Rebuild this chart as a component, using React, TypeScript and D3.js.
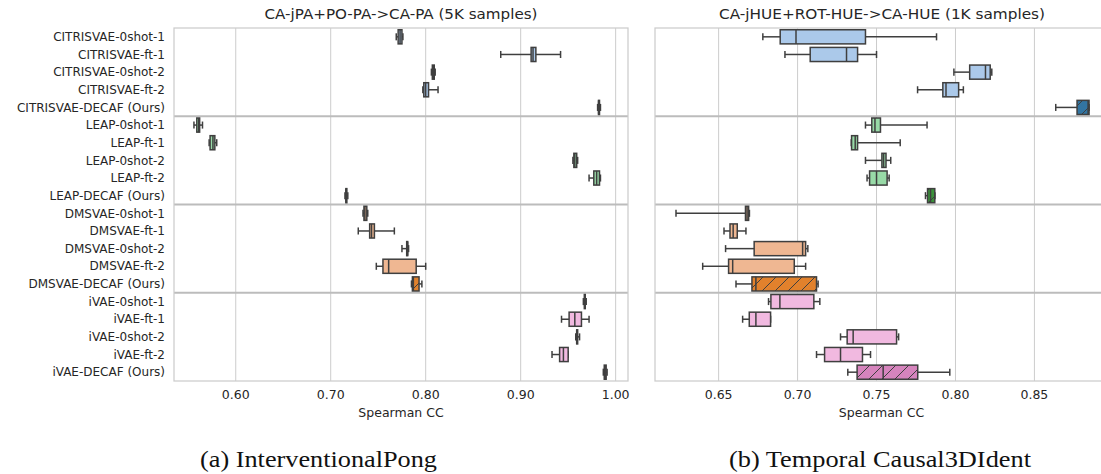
import React from "react";
import * as d3 from "d3";

// row labels, shared by both panels
const categories = [
  "CITRISVAE-0shot-1", "CITRISVAE-ft-1", "CITRISVAE-0shot-2", "CITRISVAE-ft-2", "CITRISVAE-DECAF (Ours)",
  "LEAP-0shot-1", "LEAP-ft-1", "LEAP-0shot-2", "LEAP-ft-2", "LEAP-DECAF (Ours)",
  "DMSVAE-0shot-1", "DMSVAE-ft-1", "DMSVAE-0shot-2", "DMSVAE-ft-2", "DMSVAE-DECAF (Ours)",
  "iVAE-0shot-1", "iVAE-ft-1", "iVAE-0shot-2", "iVAE-ft-2", "iVAE-DECAF (Ours)",
];

// [whisker low, q1, median, q3, whisker high]
const pongStats = [
  [0.769, 0.771, 0.773, 0.775, 0.776],
  [0.879, 0.911, 0.913, 0.916, 0.942],
  [0.806, 0.807, 0.808, 0.809, 0.810],
  [0.797, 0.798, 0.800, 0.803, 0.813],
  [0.981, 0.982, 0.982, 0.983, 0.984],
  [0.556, 0.559, 0.561, 0.562, 0.565],
  [0.572, 0.573, 0.576, 0.578, 0.580],
  [0.955, 0.956, 0.957, 0.959, 0.960],
  [0.972, 0.977, 0.980, 0.983, 0.984],
  [0.715, 0.716, 0.716, 0.717, 0.718],
  [0.734, 0.735, 0.736, 0.738, 0.739],
  [0.729, 0.741, 0.743, 0.746, 0.767],
  [0.775, 0.780, 0.781, 0.781, 0.782],
  [0.748, 0.755, 0.761, 0.790, 0.800],
  [0.785, 0.786, 0.787, 0.793, 0.796],
  [0.966, 0.967, 0.968, 0.968, 0.969],
  [0.943, 0.951, 0.957, 0.964, 0.972],
  [0.958, 0.959, 0.959, 0.960, 0.962],
  [0.933, 0.941, 0.945, 0.950, 0.950],
  [0.987, 0.988, 0.989, 0.990, 0.991],
];

const hueStats = [
  [0.678, 0.689, 0.699, 0.743, 0.788],
  [0.692, 0.708, 0.731, 0.738, 0.750],
  [0.799, 0.809, 0.819, 0.822, 0.823],
  [0.776, 0.792, 0.794, 0.802, 0.805],
  [0.8635, 0.877, 0.884, 0.8846, 0.8846],
  [0.743, 0.747, 0.749, 0.7525, 0.782],
  [0.734, 0.7342, 0.7365, 0.738, 0.765],
  [0.743, 0.7534, 0.7545, 0.756, 0.759],
  [0.744, 0.7456, 0.750, 0.7567, 0.758],
  [0.781, 0.7823, 0.7842, 0.7869, 0.787],
  [0.623, 0.667, 0.668, 0.669, 0.6695],
  [0.6534, 0.6572, 0.6592, 0.6618, 0.6673],
  [0.6544, 0.6725, 0.7032, 0.7051, 0.7065],
  [0.6399, 0.6563, 0.6589, 0.6979, 0.7051],
  [0.661, 0.6711, 0.6736, 0.712, 0.713],
  [0.6816, 0.6831, 0.6888, 0.7103, 0.7141],
  [0.6652, 0.6694, 0.6736, 0.6829, 0.6829],
  [0.7272, 0.7314, 0.7352, 0.7627, 0.764],
  [0.712, 0.7171, 0.7272, 0.7411, 0.7462],
  [0.7318, 0.7377, 0.7542, 0.7761, 0.7964],
];

const pongTicks = [0.6, 0.7, 0.8, 0.9, 1.0];
const hueTicks = [0.65, 0.7, 0.75, 0.8, 0.85];

const lightColors = ["#abc9ea", "#98daa7", "#efb792", "#f1b9e0"];
const darkColors = ["#3274a1", "#3a923a", "#e1812c", "#d684bd"];

const EDGE = "#3f3f3f";
const top = 28, bottom = 381;

function Panel({ stats, domain, x0, x1, ticks, title, titleX, titleW, showLabels, id }) {
  const x = d3.scaleLinear().domain(domain).range([x0, x1]);
  const y = d3.scaleBand().domain(categories).range([top, bottom]);
  const bh = y.bandwidth() * 0.8;
  const cw = bh / 2;
  const clipId = "clip-" + id;
  return (
    <g>
      <defs>
        <clipPath id={clipId}>
          <rect x={x0} y={top} width={x1 - x0} height={bottom - top} />
        </clipPath>
      </defs>
      <text x={titleX - titleW / 2} y={19} fontSize={14} fill="#262626"
        textLength={titleW} lengthAdjust="spacingAndGlyphs">{title}</text>
      {ticks.map((t) => (
        <g key={t}>
          <line x1={x(t)} x2={x(t)} y1={top} y2={bottom} stroke="#cccccc" strokeWidth={1} />
          <text x={x(t)} y={399} textAnchor="middle" fontSize={12.5} fill="#262626">{t.toFixed(2)}</text>
        </g>
      ))}
      {[5, 10, 15].map((i) => (
        <line key={i} x1={x0} x2={x1} y1={y(categories[i])} y2={y(categories[i])} stroke="#bcbcbc" strokeWidth={2} />
      ))}
      <rect x={x0} y={top} width={x1 - x0} height={bottom - top} fill="none" stroke="#cccccc" strokeWidth={1.25} />
      <text x={(x0 + x1) / 2} y={417} textAnchor="middle" fontSize={12.5} fill="#262626">Spearman CC</text>
      <g clipPath={`url(#${clipId})`}>
        {stats.map((s, i) => {
          const cy = y(categories[i]) + y.bandwidth() / 2;
          const g = Math.floor(i / 5);
          const decaf = i % 5 === 4;
          const fill = decaf ? darkColors[g] : lightColors[g];
          const [lo, q1, med, q3, hi] = s;
          return (
            <g key={i}>
              <line x1={x(lo)} x2={x(q1)} y1={cy} y2={cy} stroke={EDGE} strokeWidth={1.5} />
              <line x1={x(q3)} x2={x(hi)} y1={cy} y2={cy} stroke={EDGE} strokeWidth={1.5} />
              <line x1={x(lo)} x2={x(lo)} y1={cy - cw / 2} y2={cy + cw / 2} stroke={EDGE} strokeWidth={1.5} />
              <line x1={x(hi)} x2={x(hi)} y1={cy - cw / 2} y2={cy + cw / 2} stroke={EDGE} strokeWidth={1.5} />
              <rect x={x(q1)} y={cy - bh / 2} width={x(q3) - x(q1)} height={bh} fill={fill} />
              {decaf && (
                <rect x={x(q1)} y={cy - bh / 2} width={x(q3) - x(q1)} height={bh} fill="url(#hatch)" />
              )}
              <rect x={x(q1)} y={cy - bh / 2} width={x(q3) - x(q1)} height={bh} fill="none" stroke={EDGE} strokeWidth={1.5} />
              <line x1={x(med)} x2={x(med)} y1={cy - bh / 2} y2={cy + bh / 2} stroke={EDGE} strokeWidth={1.5} />
            </g>
          );
        })}
      </g>
      {showLabels &&
        categories.map((c) => (
          <text key={c} x={165} y={y(c) + y.bandwidth() / 2} dy="0.35em" textAnchor="end" fontSize={12} fill="#262626">{c}</text>
        ))}
    </g>
  );
}

export default function App() {
  return (
    <svg width={1101} height={474} style={{ position: "absolute", left: 0, top: 0, background: "#fff" }}
      fontFamily="DejaVu Sans">
      <defs>
        <pattern id="hatch" patternUnits="userSpaceOnUse" width={13} height={13}>
          <line x1={0} y1={13} x2={13} y2={0} stroke={EDGE} strokeWidth={1} />
          <line x1={-2} y1={2} x2={2} y2={-2} stroke={EDGE} strokeWidth={1} />
          <line x1={11} y1={15} x2={15} y2={11} stroke={EDGE} strokeWidth={1} />
        </pattern>
      </defs>
      <Panel id="pong" stats={pongStats} domain={[0.535, 1.013]} x0={174} x1={628} ticks={pongTicks}
        title="CA-jPA+PO-PA->CA-PA (5K samples)" titleX={401} titleW={273} showLabels={true} />
      <Panel id="hue" stats={hueStats} domain={[0.6097, 0.8966]} x0={655} x1={1108} ticks={hueTicks}
        title="CA-jHUE+ROT-HUE->CA-HUE (1K samples)" titleX={882} titleW={326} showLabels={false} />
      <text x={200} y={467} fontFamily="Liberation Serif" fontSize={23} fill="#111"
        textLength={237} lengthAdjust="spacingAndGlyphs">(a) InterventionalPong</text>
      <text x={729} y={467} fontFamily="Liberation Serif" fontSize={23} fill="#111"
        textLength={302} lengthAdjust="spacingAndGlyphs">(b) Temporal Causal3DIdent</text>
    </svg>
  );
}
